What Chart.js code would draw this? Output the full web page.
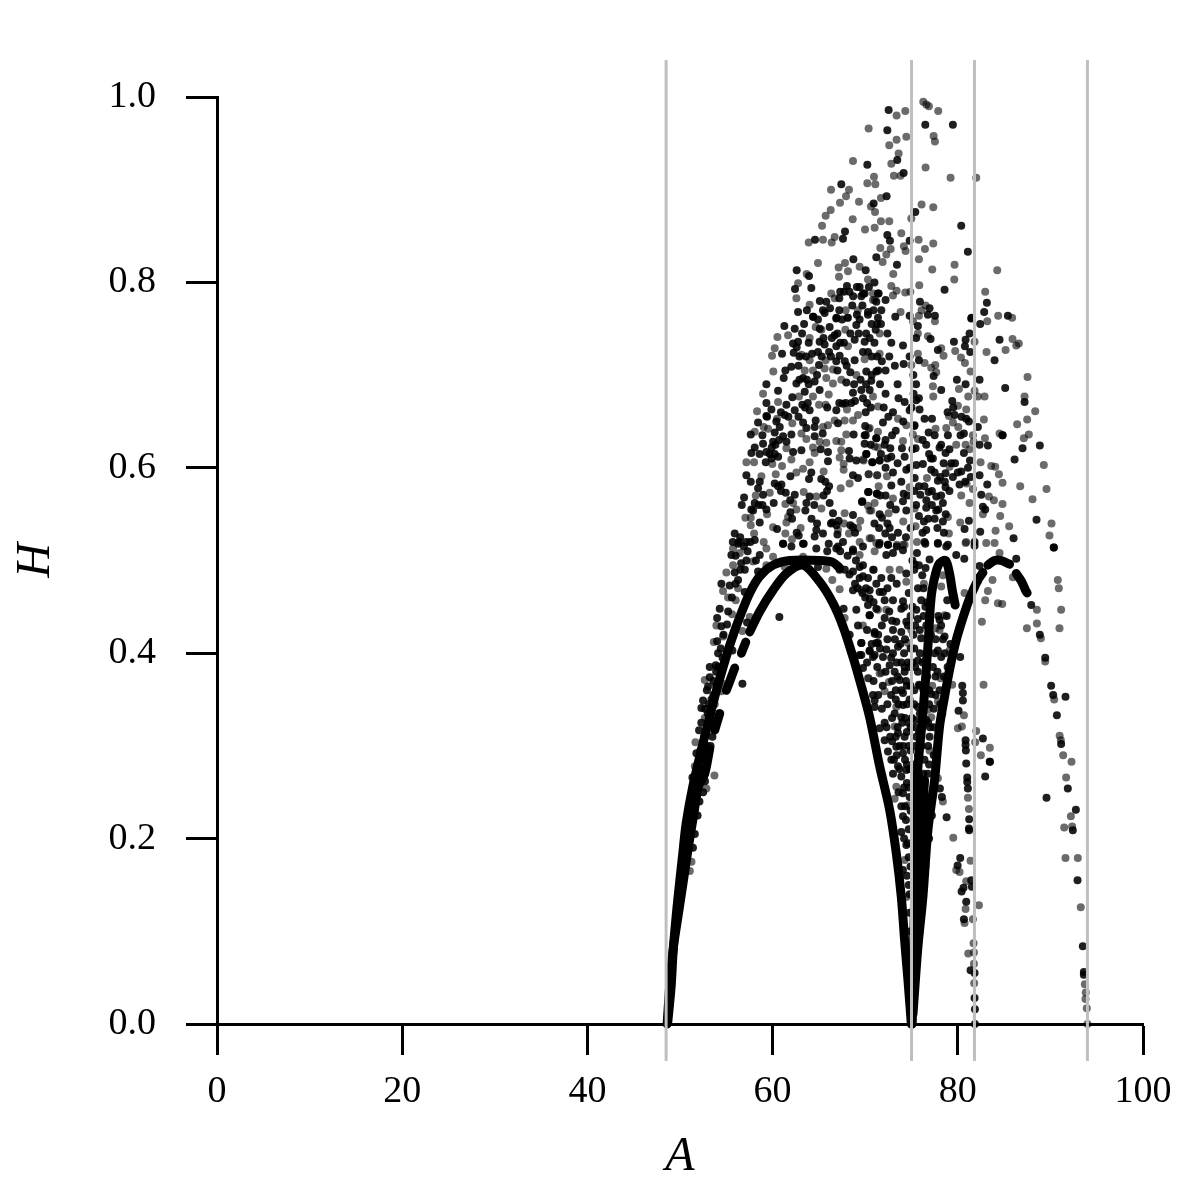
<!DOCTYPE html>
<html lang="en">
<head>
    <meta charset="UTF-8">
    <title>H against A</title>
    <style>
        html, body { margin: 0; padding: 0; background: #fff; }
        canvas { display: block; }
    </style>
</head>
<body>
    <canvas id="chart" width="1181" height="1181"></canvas>

    <script src="https://cdn.jsdelivr.net/npm/chart.js"></script>
    <script>
        // values, [A, H]
        const refLines = [48.5, 75, 81.8, 94];
        const refRange = [-0.04, 1.04];
        const xTicks = [0, 20, 40, 60, 80, 100];
        const yTicks = [0, 0.2, 0.4, 0.6, 0.8, 1.0];

        const lightPoints = [
            [70.37,.966],[68.68,.931],[70.95,.914],[70.23,.907],[71.09,.906],[66.31,.900],[68.25,.900],[67.93,.893],[67.28,.886],[69.33,.887],
            [70.62,.882],[71.06,.876],[66.27,.878],[65.73,.872],[68.65,.868],[65.34,.861],[71.02,.859],[69.98,.857],[65.44,.846],[63.9,.843],
            [66.7,.849],[66.38,.843],[64.9,.821],[67.82,.821],[67.13,.816],[63.68,.809],[68.14,.812],[69.4,.817],[67.17,.806],[70.3,.803],
            [62.75,.799],[62.57,.783],[64,.776],[66.34,.788],[66.7,.783],[67.89,.770],[69.2,.770],[70.84,.781],
            [73.39,.980],[74.33,.985],[76.27,.995],[76.6,.992],[76.88,.990],[77.89,.985],[73.39,.954],[74.44,.957],[77.39,.958],[77.53,.952],
            [72.6,.948],[73.61,.939],[72.82,.928],[76.52,.924],[73.82,.915],[73.1,.915],[79.22,.913],[81.99,.913],[71.7,.891],[76.09,.884],
            [77.35,.881],[74.98,.869],[71.7,.866],[72.6,.866],[73.9,.853],[75.77,.846],[77.35,.842],[74.18,.839],[74.36,.834],[76.45,.836],
            [72.75,.836],[71.63,.837],[72.28,.830],[75.8,.825],[71.88,.822],[79.65,.819],[77.24,.814],[84.26,.813],[73.03,.809],[79.62,.803],
            [72.82,.796],[75.84,.797],[73.39,.791],[74.33,.789],[74.87,.790],[82.96,.790],[73,.786],[70.84,.788],[76.52,.775],[76.09,.770],
            [71.02,.781],[73.82,.768],[75.8,.764],[84.36,.764],[85.87,.762],
            [68.14,.762],[65.27,.749],[64.65,.752],[67.85,.749],[61.67,.743],[60.52,.741],[64,.740],[68.14,.731],[60.23,.729],[59.94,.721],
            [63.11,.722],[71.56,.723],[64,.716],[65.73,.716],[69.94,.717],[66.52,.706],[63.47,.705],[64.36,.705],[65.62,.707],[60.08,.704],
            [65.8,.697],[66.52,.691],[67.42,.695],[69.04,.700],[58.97,.680],[62.85,.677],[64.36,.677],[66.06,.679],[70.84,.677],[60.59,.671],
            [65.01,.668],[65.73,.668],[58.32,.661],[68.03,.663],[71.38,.666],[60.48,.653],[69.22,.657],[66.7,.651],[67.78,.651],[68.68,.651],
            [62.13,.648],[65.98,.646],[65.44,.644],[59.04,.644],[70.48,.643],[59.51,.642],[58.07,.639],[63.11,.637],[67.96,.636],[63.65,.631],
            [65.08,.628],[65.8,.627],[66.88,.629],[67.42,.628],[61.49,.621],[64.36,.622],[67.42,.619],[71.38,.622],[64.54,.616],[57.17,.606],
            [58,.606],[59.97,.604],[61.02,.602],[62.03,.609],[64,.606],[67.24,.611],[69.83,.608],[67.67,.604],[62.57,.595],[63.29,.599],
            [65.51,.596],[58.79,.591],[60.34,.593],[67.67,.598],[70.37,.593],[71.27,.592],[68.32,.583],[67.35,.578],[63.36,.574],[58.18,.570],
            [59.69,.573],[64.72,.569],[61.38,.561],[62.21,.562],[70.3,.559],[62.57,.555],[65.27,.556],[70.66,.554],[59.4,.550],[67.78,.551],
            [57.06,.546],[57.64,.546],[61.67,.547],[69.47,.543],[61.49,.541],[67.71,.540],[57.64,.538],[60.05,.536],[63.03,.535],[69.22,.535],
            [67.06,.533],[68.25,.529],[58,.529],[61.38,.529],[62.1,.523],[59.04,.520],[69.4,.520],[70.66,.524],[71.2,.519],[55.73,.513],
            [77.53,.758],[75.16,.758],[83.18,.758],[85.91,.739],[86.59,.734],[86.31,.732],[85.16,.727],[83.1,.725],[81.81,.736],[75.69,.745],
            [76.77,.742],[78.21,.729],[78.46,.721],[79.72,.726],[80.34,.719],[80.77,.713],[71.56,.745],[75.69,.723],[74.98,.711],[76.41,.713],
            [77.57,.711],[77.13,.708],[77.67,.703],[81.38,.704],[87.53,.698],[77.31,.688],[80.12,.685],[77.35,.677],[81.81,.683],[87.21,.677],
            [88.36,.661],[82.17,.677],[82.89,.677],[81.13,.677],[80.01,.667],[80.91,.663],[79.04,.656],[82.82,.652],[87.49,.652],[86.41,.647],
            [73.54,.653],[79.47,.649],[74.44,.646],[77.6,.642],[78.75,.643],[80.05,.644],[84.51,.637],[87.67,.636],[87.13,.632],[82.93,.632],
            [75.16,.636],[75.69,.631],[71.38,.639],[70.37,.642],[81.63,.635],[81.7,.628],[74.08,.629],[79.83,.625],[80.84,.625],[81.27,.620],
            [71.02,.623],[71.56,.608],[69.76,.609],[82.46,.606],[83.61,.602],[84.04,.601],[89.29,.603],[79.11,.601],[84.44,.593],[70.37,.593],
            [71.31,.592],[72.35,.591],[76.67,.589],[84.83,.584],[86.74,.580],[89.58,.577],[80.95,.583],[71.45,.580],[74.8,.579],[81.63,.577],
            [80.37,.570],[83.36,.569],[83.9,.565],[88.07,.566],[73,.567],[71.02,.562],[81.27,.562],[84.83,.561],[75.34,.556],[72.53,.551],
            [70.48,.554],[78.93,.547],[82.71,.550],[84.58,.548],[90.12,.540],[74.11,.542],[80.26,.541],[85.55,.537],[75.44,.537],[79.04,.529],
            [84.08,.532],[89.9,.527],[70.48,.524],[80.91,.520],[83.07,.519],[83.97,.519],[74.08,.517],[75.59,.520],
            [56.45,.508],[59.33,.513],[60.05,.504],[57.89,.499],[55.73,.495],[55.01,.487],[59.33,.495],[54.65,.467],[56.27,.470],[55.19,.460],
            [56.02,.457],[55.62,.442],[53.93,.430],[57.53,.439],[56.74,.424],[54.65,.418],[53.65,.412],[52.67,.371],[54.58,.367],[54.47,.359],
            [53.75,.345],[52.67,.330],[51.67,.304],[51.6,.278],[53.72,.268],[61.31,.493],[63.29,.504],[65.8,.491],[66.45,.479],[67.24,.469],
            [69.4,.506],[70.84,.490],[67.78,.438],[70.3,.373],[71.56,.378],[52.85,.254],[51.24,.175],[51.06,.165],
            [73.43,.517],[74.26,.517],[80.84,.519],[84.51,.508],[71.02,.510],[72.64,.490],[73.72,.490],[78.39,.484],[74.44,.477],[76.34,.475],
            [78.21,.472],[83.75,.479],[85.95,.482],[90.8,.479],[90.91,.470],[69.58,.468],[80.73,.465],[83.25,.467],[82.96,.457],[81.81,.470],
            [84.33,.454],[84.8,.453],[88.54,.447],[91.16,.447],[71.38,.447],[72.28,.447],[78.57,.441],[82.6,.434],[88.54,.432],[87.46,.427],
            [90.98,.427],[88.97,.416],[69.76,.430],[74.98,.425],[77.6,.427],[78.03,.425],[74.62,.411],[79.11,.403],[89.44,.391],[71.74,.379],
            [78.14,.373],[70.37,.373],[72.57,.369],[77.24,.365],[79.4,.366],[82.78,.366],[72.1,.359],[90.41,.350],[77.85,.348],[73.36,.342],
            [76.77,.339],[80.66,.333],[77.13,.331],[73.18,.321],[80.01,.319],[80.44,.321],[81.99,.316],[81.88,.304],[91,.311],[91.13,.306],
            [83.46,.298],[82.49,.290],[91.38,.290],[92.28,.283],[76.95,.295],[91.7,.266],[77.85,.265],
            [81.09,.244],[81.2,.232],[92.21,.224],[91.49,.212],[92.35,.213],[78.39,.240],[79.51,.201],[91.63,.179],[92.96,.179],[80.19,.164],
            [79.83,.166],[81.38,.176],[80.91,.154],[80.84,.124],[82.28,.128],[93.28,.126],[80.73,.109],[81.63,.113],[81.7,.087],[81.13,.076],
            [81.74,.077],[81.74,.065],[81.77,.044],[93.72,.043],[93.82,.034],[93.79,.027],[93.93,.017],[94,.0],[73.36,.256],[73.18,.243],
            [74.62,.236],[74.26,.177],[74.44,.137]
        ];

        const darkPoints = [
            [70.23,.927],[67.42,.906],[70.91,.885],[67.82,.855],[64.58,.846],[67.6,.847],[71.2,.827],[68.72,.825],[62.6,.813],[63.93,.807],
            [70.05,.813],[62.42,.793],[64.18,.794],[62.75,.768],[68.03,.796],[67.3,.790],[67.7,.790],[68.3,.790],[69.1,.795],[69.94,.788],
            [69.58,.785],[71.38,.788],[65.8,.779],[65.44,.770],[66.9,.762],[70.3,.768],[71.2,.779],[64.4,.763],[68.1,.762],
            [72.53,.986],[76.49,.970],[79.47,.970],[72.39,.964],[73.46,.932],[74.15,.918],[72.31,.893],[75.41,.876],[80.37,.861],[72.39,.851],
            [72.67,.845],[74.8,.845],[81.09,.833],[73.43,.819],[78.57,.792],[71.45,.788],[69.76,.788],[83.14,.778],[75.91,.779],[76.95,.772],
            [82.85,.768],[71.74,.770],[72.2,.781],[73.25,.763],[74.8,.764],[76.77,.765],[77.53,.764],[81.49,.762],[85.41,.764],[71.38,.762],
            [64.36,.763],[65.62,.767],[64.9,.760],[66.88,.761],[69.4,.760],[70.3,.765],[61.27,.753],[62.39,.750],[63.18,.745],[66.16,.752],
            [69.04,.754],[66.7,.743],[62.75,.736],[62.21,.734],[65.08,.736],[65.62,.733],[66.88,.731],[68.86,.738],[70.48,.740],[69.94,.736],
            [71.13,.749],[61.02,.723],[62.28,.724],[64.26,.723],[67.24,.721],[69.76,.725],[66.88,.715],[68.86,.716],[62.02,.709],[65.01,.711],
            [68.39,.703],[70.12,.704],[71.2,.704],[61.38,.705],[61.2,.697],[63.29,.697],[62.57,.691],[64.54,.693],[67.96,.692],[70.66,.694],
            [59.33,.690],[60.59,.683],[63.47,.682],[65.08,.684],[68.68,.681],[69.58,.684],[70.48,.684],[62.13,.676],[59.33,.670],[61.49,.668],
            [63.21,.668],[67.6,.669],[68.5,.670],[69.76,.675],[59.87,.663],[62.39,.662],[64,.662],[66.88,.662],[70.05,.660],[61.31,.657],
            [59.33,.656],[64.65,.651],[63.29,.649],[58.43,.649],[67.06,.648],[60.77,.644],[63.65,.643],[64.54,.644],[57.64,.636],[58.9,.635],
            [60.23,.638],[61.13,.634],[62.03,.636],[64.54,.634],[65.41,.637],[68.75,.636],[70.05,.635],[71.2,.632],[60.05,.628],[69.94,.626],
            [58.97,.626],[58.07,.622],[57.71,.616],[59.33,.617],[60.23,.615],[62.21,.617],[63.11,.619],[65.19,.620],[68.25,.618],[65.98,.617],
            [70.12,.615],[59.26,.606],[65.98,.607],[68.32,.610],[69.04,.608],[70.77,.606],[71.56,.608],[64.18,.595],[57.17,.592],[57.64,.585],
            [61.92,.591],[63.93,.588],[65.26,.588],[68.68,.592],[69.22,.589],[58.61,.585],[60.23,.583],[60.95,.582],[65.88,.575],[58.43,.578],
            [61.42,.573],[70.3,.574],[71.27,.572],[56.92,.568],[58.97,.571],[62.39,.571],[64,.569],[58.07,.562],[56.67,.560],[60.12,.562],
            [63.65,.562],[66.16,.562],[69.65,.563],[57.89,.554],[59.33,.555],[63.54,.554],[61.92,.552],[66.52,.551],[68.68,.549],[66.45,.541],
            [67.13,.543],[58.61,.541],[60.48,.534],[64.72,.533],[68.68,.536],[55.91,.529],[62.82,.527],[64.54,.526],[65.44,.529],[56.38,.520],
            [57.17,.520],[58.07,.522],[61.13,.518],[63.36,.518],[66.06,.518],[67.6,.520],[66.88,.513],[68.68,.512],
            [75.69,.753],[81.45,.761],[82.42,.755],[81.27,.745],[84.51,.738],[83.97,.716],[79.58,.736],[80.84,.738],[77.06,.739],[77.85,.727],
            [80.77,.731],[81.34,.725],[74.08,.732],[72.82,.735],[75.8,.716],[74.15,.712],[77.39,.699],[82.35,.695],[79.9,.695],[80.84,.690],
            [78.21,.684],[85.12,.686],[87.21,.671],[79.4,.672],[75.87,.663],[75.23,.680],[75.51,.673],[74.26,.671],[74.8,.662],[79.65,.657],
            [80.91,.653],[76.41,.653],[77.21,.653],[82.17,.644],[71.92,.649],[75.33,.646],[84.83,.635],[84.83,.635],[80.66,.637],[78.93,.635],
            [76.85,.638],[71.2,.632],[69.94,.635],[82.35,.625],[83.25,.624],[86.99,.621],[88.86,.624],[73.97,.621],[72.71,.621],[72.1,.625],
            [76.59,.625],[75.44,.621],[78.03,.622],[78.68,.616],[80.66,.616],[70.12,.615],[72.82,.612],[74.26,.612],[70.77,.606],[77.31,.610],
            [81.31,.608],[86.13,.609],[75.52,.603],[76.23,.604],[74.44,.598],[77.13,.598],[78.47,.605],[80.37,.596],[82.35,.592],[75.34,.589],
            [77.85,.586],[78.68,.594],[79.47,.590],[80.19,.582],[83.18,.582],[72.82,.581],[78.68,.579],[76.85,.574],[75.95,.571],[77.67,.569],
            [70.37,.574],[71.27,.572],[74.15,.572],[82.53,.571],[74.08,.564],[69.69,.564],[78.39,.562],[82.71,.558],[82.96,.555],[74.44,.554],
            [76.59,.557],[77.67,.554],[71.56,.550],[71.81,.546],[75.8,.548],[88.5,.544],[76.34,.542],[78.39,.542],[81.2,.543],[72.64,.535],
            [76.59,.533],[73.54,.530],[72.17,.529],[80.73,.534],[82.42,.531],[86.02,.524],[71.56,.519],[81.81,.520],[90.37,.514],[72.46,.517],
            [76.41,.520],[77.85,.519],[78.93,.517],[69.76,.515],
            [56.27,.518],[57.17,.500],[55.55,.506],[58.61,.506],[55.91,.487],[57,.490],[58.43,.488],[54.47,.475],[55.37,.473],[56.27,.479],
            [56.99,.466],[54.29,.448],[54.01,.438],[55.08,.431],[54.47,.429],[57.24,.433],[54.01,.413],[54.11,.400],[55.66,.403],[53.21,.385],
            [53.86,.387],[53.21,.374],[53.03,.364],[52.49,.349],[52.31,.341],[52.06,.317],[51.77,.292],[51.34,.266],[60.73,.439],[56.74,.367],
            [64.9,.493],[67.24,.490],[61.13,.518],[62.03,.515],[63.28,.518],[64.72,.513],[67.06,.515],[68.68,.510],[69.4,.493],[68.68,.488],
            [69.4,.481],[70.3,.481],[68.68,.468],[70.48,.459],[71.56,.466],[67.67,.448],[69.04,.447],[70.48,.441],[71.2,.448],[69.22,.430],
            [71.02,.421],[68.32,.420],[69.58,.411],[71.2,.411],[70.48,.402],[69.4,.398],[71.02,.398],[69.76,.384],[70.84,.355],[71.02,.342],
            [71.49,.517],[72.46,.517],[76.49,.518],[77.85,.518],[78.75,.515],[81.81,.516],[72.28,.506],[73,.508],[74.08,.511],[75.59,.508],
            [79.83,.506],[80.7,.502],[86.31,.502],[90.37,.514],[69.76,.495],[70.91,.490],[74.44,.486],[75.34,.496],[76.52,.492],[76.95,.501],
            [82.35,.494],[71.74,.481],[72.82,.481],[76.16,.484],[82.17,.478],[69.76,.483],[71.92,.466],[70.48,.468],[73,.457],[74.08,.456],
            [73.9,.448],[72.1,.457],[76.05,.457],[78.86,.457],[87.93,.452],[70.48,.441],[72.1,.438],[73.36,.434],[74.44,.434],[75.69,.437],
            [75.52,.447],[78.03,.436],[88.86,.420],[71.02,.423],[73,.425],[73.9,.423],[78.57,.418],[76.05,.416],[69.58,.411],[71.38,.411],
            [73.54,.407],[72.28,.404],[77.85,.403],[80.26,.396],[70.48,.403],[78.21,.396],[71.92,.396],[70.84,.396],[69.58,.398],[89.44,.395],
            [72.64,.387],[74.26,.385],[75.69,.392],[77.31,.385],[73.18,.380],[74.26,.380],[75.69,.380],[73.72,.371],[75.8,.366],[80.48,.365],
            [90.08,.365],[78.03,.360],[74.08,.357],[77.13,.356],[80.55,.357],[80.55,.349],[90.3,.355],[91.63,.353],[71.02,.349],[74.08,.344],
            [75.69,.342],[80.08,.338],[90.7,.333],[73.9,.331],[73.18,.335],[78.32,.335],[75.34,.328],[76.59,.328],[72.1,.325],[71.56,.319],
            [78.03,.321],[76.95,.310],[72.1,.306],[73.54,.314],[74.26,.310],[75.52,.310],[82.71,.308],[80.84,.306],[80.84,.301],[91.16,.302],
            [80.87,.295],[73.36,.299],[72.46,.294],[72.82,.285],[74.08,.292],[73.54,.278],[74.44,.274],[83.46,.283],[83.46,.283],[80.91,.281],
            [81.02,.266],[82.96,.267],[73,.270],[73.9,.267],[76.77,.270],
            [81.02,.261],[81.09,.254],[81.23,.221],[81.2,.211],[81.23,.209],[91.88,.254],[89.58,.244],[92.75,.231],[92.42,.209],[78.07,.254],
            [78.28,.245],[78.79,.223],[80.26,.179],[79.98,.171],[92.93,.155],[81.45,.155],[81.52,.148],[80.62,.147],[80.41,.143],[80.91,.132],
            [80.66,.113],[93.5,.084],[81.38,.058],[81.81,.055],[93.61,.056],[93.61,.053],[81.81,.028],[81.85,.016],[81.85,.0],[74.08,.249],
            [74.08,.224],[73.9,.207],[74.44,.193],[74.08,.166],[76.23,.227],[76.77,.211],[76.23,.188],[76.95,.238],
            // the denser patches
            [73,.40],[73.4,.39],[73.8,.41],[74.2,.40],[74.6,.39],[72.9,.37],[73.3,.36],[74.5,.365],[74.8,.35],[73.6,.345],
            [74.3,.33],[74.9,.32],[73.3,.31],[73.7,.30],[74.7,.30],[72.7,.31],[73.1,.285],[74.3,.285],[74.8,.275],[74.5,.26],
            [73.6,.25],[74.8,.245],[73.9,.235],[74.4,.22],[74.7,.21],[74.2,.20],[74.7,.18],[74.5,.16],[74.8,.14],
            [75.1,.45],[75.2,.42],[75.1,.39],[75.3,.36],[75.05,.33],[75.4,.30],[75.7,.29],[76.1,.30],[76.4,.285],[76.8,.30],
            [77,.32],[77.4,.34],[76.9,.36],[76.5,.37],[76.2,.39],[77.5,.40],[77.8,.38],[77.1,.42],[77.9,.44],[78.2,.43],
            [76.5,.45],[75.7,.47],[78.6,.40],[78.9,.385],[79.2,.41],[78.8,.44],[76.1,.26],[76.4,.25],[76.7,.245],[77,.24],
            [77.2,.225],[76.9,.20],[76.5,.17],
            [76.2,.53],[76.8,.545],[77.2,.56],[77.5,.545],[77.9,.555],[78.2,.57],[77.2,.575],[76.6,.565],[77.8,.535],[78.5,.53],
            [78.7,.55],[78.1,.59],[78.6,.585],[79.1,.575],[76.4,.58],[77.5,.595],[77.1,.61],[75.5,.56],[75.8,.58],[75.3,.575],
            [74.8,.60],[75.1,.62],[75.3,.645],[75,.665],[75.5,.69],[75.8,.675],[75.2,.70],[75.5,.74],[74.8,.72],
            [67.2,.77],[67.5,.76],[68.6,.775],[69.1,.765],[69.7,.775],[70.9,.77],[71.3,.755],[71.7,.755],[72.4,.745],[70.7,.72],
            [70.3,.725],[71,.735],[71.3,.72],[71.8,.715],[72.2,.705],[72.6,.72],[73.2,.71],[73.5,.69],[72.2,.68],[71.6,.69],
            [73,.66],[72.5,.655],[72,.665],[73.6,.675],[74.1,.65],[63.4,.755],[63.9,.735],[65.1,.75],[67,.745],[67.3,.735],
            [63.6,.72],[65.3,.72],[66.1,.725],[68,.71],[62.8,.71],[63.9,.69],
            [52.9,.36],[53.1,.345],[53.3,.33],[53,.32],[52.6,.31],[52.2,.295],[52,.28],[51.8,.265],[53.6,.37],[53.9,.38],
            [54.4,.405],[54.7,.42],[55.2,.445],[55.6,.46],[56,.475],[56.5,.49],[57.3,.51],[51.4,.25],[51.1,.235],[50.9,.215],
            [50.6,.20],[50.4,.18],[50.2,.17],[52.3,.325],
            [70.1,.47],[71.2,.475],[72.4,.47],[73.4,.475],[74.7,.465],[70.9,.455],[72.6,.445],[74.2,.45],[74.9,.44],[71.8,.43],
            [72.9,.435],[74.6,.43],[70.2,.425],[71.4,.42],[72.4,.415],[73.2,.415],[74.3,.415],[74.9,.405],[70.7,.41],[71.6,.405],
            [72.8,.395],[73.9,.39],[74.8,.385],[70.2,.39],[71.3,.385],[72.2,.38],[73.5,.375],[74.4,.37],[70.9,.37],[71.9,.365],
            [72.8,.355],[73.9,.36],[74.9,.365],[71.4,.355],[72.4,.345],[73.3,.35],[74.5,.345],[71.8,.34],[72.9,.33],[74,.325],
            [74.7,.325],[72.3,.32],[73.5,.32],[74.5,.315],[72.9,.305],[74.1,.30],[74.9,.295],[73.4,.29],[74.5,.28],[73.7,.275],
            [74.2,.255],[74.7,.255],[74.9,.23],[74.3,.235],[74.6,.195],[74.9,.17],[74.7,.15],[74.8,.12],[74.9,.10],
            [75.3,.49],[75.8,.495],[76.3,.47],[76.7,.455],[76.3,.44],[75.4,.43],[75.9,.425],[76.6,.43],[75.3,.405],[75.9,.40],
            [77.6,.415],[78.4,.415],[76.6,.395],[75.4,.385],[75.9,.365],[76.3,.36],[76.7,.375],[77.6,.375],[78.5,.375],[75.3,.345],
            [75.9,.335],[76.3,.345],[76.9,.345],[77.6,.355],[78.1,.345],[75.4,.32],[75.8,.315],[76.2,.32],[76.8,.325],[77.4,.32],
            [75.3,.28],[75.8,.27],[76.3,.27],[76.9,.28],[77.4,.29],[75.9,.24],[76.4,.225],[76.9,.225],[76.1,.205],[76.5,.195],
            [75.9,.17],[76.3,.16],[75.8,.14],[76,.12],
            [59.4,.655],[60.9,.66],[61.7,.655],[62.8,.655],[60.4,.65],[60.7,.63],[60.3,.625],[61.5,.628],[59.9,.622],[59.7,.615],
            [58.6,.615],[59.9,.61],[60.6,.612],[60.9,.575],[60.6,.58],[58.9,.56],[58.5,.56],[57.7,.555],[61.9,.565],[62.1,.545],
            [66.1,.58],[65.7,.585],[65.5,.57],[66.3,.54],[66.9,.538],[67,.528],[68.4,.538],[68.9,.53],[64.5,.56],[64.2,.545],
            [64.8,.54],[62.6,.53],[56.5,.525],[56.9,.515],[57.6,.52],[55.7,.52],[56,.505],[56.6,.497],[58.2,.50],[65.9,.51],
            [67.3,.51],[68.1,.505],[69,.50],
            [63.5,.665],[63.8,.67],[65.9,.665],[67.2,.67],[67.9,.67],[68.9,.672],[70.2,.67],[70.6,.665],[62.9,.695],[63.7,.695],
            [64.8,.70],[66.3,.72],[67,.705],[67.8,.715],[68.8,.69],[69.5,.695],[70.1,.69],[70.7,.70],[62.6,.73],[62.9,.72],
            [64.9,.725],[65.5,.74],[66.4,.74],[67.7,.735],[68.4,.745],[69.3,.745],[70.1,.745],[70.7,.755],[71.4,.705],[63.7,.77],
            [65.1,.78],[66.2,.772],[67.2,.783],[68.7,.785],[69.4,.795],[70.4,.795],[71,.80],
            [70,.645],[70.6,.625],[71.7,.615],[72.2,.63],[72.9,.635],[73.3,.64],[72.4,.61],[73.5,.605],[73,.595],[72.2,.60],
            [71.6,.57],[72.2,.57],[72.7,.56],[73.3,.555],[73.9,.585],[74.6,.57],[71,.54],[71.5,.535],[72.4,.54],[72.9,.525],
            [73.4,.515],[74.4,.525],[74.9,.535],[75.1,.50],
            [76.2,.63],[76.9,.615],[77.5,.635],[78.2,.625],[79.1,.62],[79.7,.605],[80,.595],[79.3,.605],[78.9,.66],[79.5,.665],
            [80.4,.655],[81.2,.65],[80.3,.635],[81.1,.60],[80.8,.585],[81.4,.59],
            [52.9,.30],[52.5,.275],[52.2,.27],[51.7,.255],[51.5,.24],[51.3,.225],[51,.19],[50.8,.185],[52.7,.34],[53,.335],
            [53.4,.35],[53.6,.355],[54.1,.385],[54.6,.395],[53.9,.365],[53.5,.31],[53.3,.30],[52.9,.285],[52.7,.262],[52.5,.25],
            [52.1,.24],[51.9,.225],[51.6,.205],[51.4,.19],
            [68.9,.475],[69.2,.47],[69.7,.465],[70,.46],[70.3,.452],[68.3,.485],[67.8,.49]
        ];

        // the thick arcs, null marks a break in the stroke
        const arcMainA = [48.61,48.93,49.29,49.83,50.37,50.91,51.45,51.99,52.67,53.21,null,53.75,54.29,null,55.01,55.91,null,56.63,57.1,null,57.53,58.61,60.05,61.49,63.29,65.08,66.52,67.6,68.68,69.4,70.48,71.56,72.64,73.36,73.9,74.26,74.62,74.98];
        const arcMainH = [0,.047,.083,.119,.155,.191,.224,.256,.270,.297,null,.317,.335,null,.360,.384,null,.400,.412,null,.423,.445,.468,.486,.495,.477,.454,.429,.396,.371,.331,.278,.231,.184,.137,.090,.047,0];
        const arcOuterA = [48.68,49.04,49.29,49.76,50.3,50.66,51.38,52.49,53.03,53.75,54.65,55.55,56.45,57.53,58.61,60.05,61.85,65.08,66.52,67.24];
        const arcOuterH = [.002,.040,.083,.134,.184,.216,.256,.303,.324,.353,.385,.414,.439,.465,.483,.495,.500,.500,.498,.492];
        const arcRightA = [75.05,75.23,75.44,75.59,76.23,76.77,77.13,77.6,78.03,78.68,79.11,79.4,79.72];
        const arcRightH = [0,.083,.191,.263,.335,.407,.461,.486,.497,.500,.486,.468,.452];
        const arcMidA = [75.05,75.16,75.52,75.95,76.41];
        const arcMidH = [0,.047,.119,.191,.263];
        const arcFarA = [75.16,75.69,76.23,76.77,77.49,78.03,78.57,79.11,79.83,80.55,81.27,82.17,82.71,null,83.25,83.97,84.69,85.59,null,86.31,86.85,87.31,87.49];
        const arcFarH = [.011,.083,.137,.209,.263,.321,.353,.382,.414,.438,.459,.479,.487,null,.495,.500,.500,.496,null,.486,.478,.468,.465];

        const toXY = (a, h) => a.map((v, i) => ({ x: v, y: h[i] }));
        const pairsToXY = (p) => p.map(v => ({ x: v[0], y: v[1] }));

        const serif = '"Liberation Serif", "Times New Roman", serif';

        const refSets = refLines.map(v => ({
            data: refRange.map(h => ({ x: v, y: h })),
            showLine: true, borderColor: '#bfbfbf', borderWidth: 3, pointRadius: 0, clip: false
        }));
        const arcSet = (a, h) => ({
            data: toXY(a, h), showLine: true, borderColor: '#000', borderWidth: 9, tension: 0.3,
            borderCapStyle: 'round', borderJoinStyle: 'round', pointRadius: 0, clip: false
        });

        new Chart(document.getElementById('chart').getContext('2d'), {
            type: 'scatter',
            data: {
                datasets: [
                    ...refSets,
                    arcSet(arcMainA, arcMainH),
                    arcSet(arcOuterA, arcOuterH),
                    arcSet(arcRightA, arcRightH),
                    arcSet(arcMidA, arcMidH),
                    arcSet(arcFarA, arcFarH),
                    { data: pairsToXY(darkPoints), backgroundColor: 'rgba(0,0,0,0.88)', borderWidth: 0, pointRadius: 4, clip: false },
                    { data: pairsToXY(lightPoints), backgroundColor: 'rgba(0,0,0,0.58)', borderWidth: 0, pointRadius: 4, clip: false }
                ]
            },
            options: {
                responsive: false,
                animation: false,
                layout: { padding: { top: 97, right: 38, bottom: 0, left: 0 } },
                plugins: { legend: { display: false }, tooltip: { enabled: false } },
                scales: {
                    x: {
                        type: 'linear', min: 0, max: 100,
                        afterFit: s => { s.height = 157; s.paddingLeft = 0; s.paddingRight = 0; },
                        afterBuildTicks: s => { s.ticks = xTicks.map(v => ({ value: v })); },
                        grid: { drawOnChartArea: false, color: '#000', tickColor: '#000', tickLength: 31, tickWidth: 3 },
                        border: { color: '#000', width: 3 },
                        ticks: { color: '#000', padding: 14, maxRotation: 0, font: { family: serif, size: 38 } },
                        title: { display: true, text: 'A', color: '#000', padding: { top: 0, bottom: -5 }, font: { family: serif, size: 48, style: 'italic' } }
                    },
                    y: {
                        type: 'linear', min: 0, max: 1,
                        afterFit: s => { s.width = 217; s.paddingTop = 0; s.paddingBottom = 0; },
                        afterBuildTicks: s => { s.ticks = yTicks.map(v => ({ value: v })); },
                        grid: { drawOnChartArea: false, color: '#000', tickColor: '#000', tickLength: 31, tickWidth: 3 },
                        border: { color: '#000', width: 3 },
                        ticks: { color: '#000', padding: 30, callback: v => v.toFixed(1), font: { family: serif, size: 38 } },
                        title: { display: true, text: 'H', color: '#000', padding: { top: 8, bottom: 0 }, font: { family: serif, size: 48, style: 'italic' } }
                    }
                }
            }
        });
    </script>
</body>
</html>
